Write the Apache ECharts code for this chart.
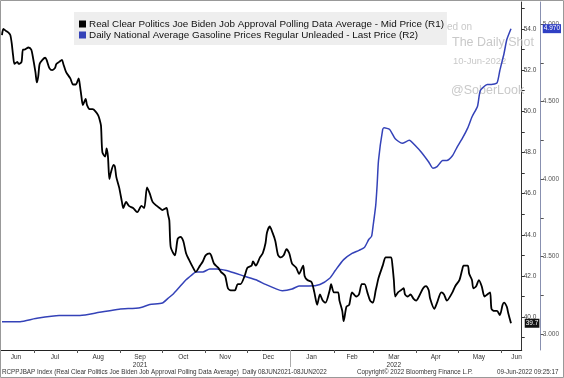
<!DOCTYPE html>
<html><head><meta charset="utf-8">
<script src="https://cdn.jsdelivr.net/npm/echarts@6/dist/echarts.min.js"></script>
<style>html,body{margin:0;padding:0;background:#fff}#c{width:564px;height:378px}</style>
</head><body><div id="c"></div>
<script>
// ---- data (days since 2021-06-08) ----
const bidenDays = [0,1,3,5,6,7,8,9,11,12,
14,15,16,19,21,22,24,25,26,27,
29,31,32,34,36,38,39,41,43,44,
46,49,51,53,55,56,57,58,60,61,
63,65,67,69,70,71,72,74,75,76,
77,78,80,81,82,84,86,87,89,91,
94,97,100,102,104,106,108,111,113,115,
118,119,120,121,124,126,128,130,132,134,
137,139,142,144,146,149,150,152,155,157,
160,162,164,167,169,171,174,176,179,180,
182,185,187,189,190,192,194,196,198,200,
202,204,206,208,211,213,216,217,219,222,
224,226,228,230,232,235,236,238,241,242,
244,245,247,249,251,254,256,258,260,262,
264,266,268,269,270,273,275,276,279,280,
281,282,284,286,288,289,291,293,295,297,
299,302,304,306,307,310,312,315,317,319,
323,325,328,330,331,334,335,337,338,340,
342,344,346,348,350,351,353,355,357,359,
360,362,363,365];
const bidenValues = [53.7,54.0,53.9,53.8,53.7,53.3,52.7,52.3,52.4,52.3,
52.4,53.0,53.0,53.1,53.0,52.7,51.9,51.4,51.7,52.3,
52.5,52.6,52.5,52.1,52.0,52.1,52.3,52.4,52.5,52.3,
51.9,51.6,51.3,51.3,51.6,51.2,50.7,50.3,50.6,50.3,
50.1,50.1,50.0,49.8,49.6,49.3,48.0,47.8,48.2,47.8,
46.7,47.0,47.4,47.3,46.8,46.3,45.6,45.3,45.6,45.4,
45.3,45.1,45.4,45.3,46.3,46.0,45.6,45.4,45.3,45.2,
45.3,45.0,44.7,43.4,43.0,43.8,43.9,43.7,43.1,42.8,
42.4,42.2,42.5,42.7,43.0,43.1,43.0,42.6,42.4,42.2,
42.0,41.4,41.3,41.3,41.6,41.6,42.0,42.4,42.5,42.7,
42.5,42.9,43.1,43.6,44.1,44.4,44.1,43.7,43.0,42.9,
43.0,43.3,43.1,42.6,42.4,42.1,42.5,42.0,41.8,41.7,
41.2,40.6,41.1,40.8,40.7,41.3,41.6,41.2,41.2,40.8,
40.3,39.8,40.5,40.6,41.2,41.0,41.1,41.6,41.6,41.2,
40.8,40.7,41.3,41.6,41.9,42.5,42.9,42.9,42.9,42.5,
41.8,41.0,41.2,41.3,41.4,41.1,41.0,41.1,40.9,40.8,
41.0,41.4,41.5,41.3,40.9,40.4,40.7,41.2,41.1,40.8,
41.2,41.5,41.8,42.3,42.5,42.5,42.1,41.8,41.4,41.5,
41.8,41.5,41.0,41.1,41.2,40.4,40.3,40.3,40.1,40.6,
40.7,40.5,40.2,39.7];
const gasDays = [0,13,24,41,56,70,84,99,106,115,
119,123,127,132,136,139,144,149,154,161,
168,175,182,189,197,201,208,213,220,228,
235,239,245,251,256,260,263,265,266,268,
269,270,273,274,278,282,287,292,297,301,
306,309,312,316,319,323,326,330,334,337,
341,343,348,351,355,357,360,362,365];
const gasValues = [3.08,3.08,3.10,3.12,3.12,3.14,3.16,3.17,3.19,3.20,
3.23,3.26,3.30,3.35,3.38,3.40,3.40,3.42,3.42,3.41,
3.39,3.37,3.35,3.32,3.29,3.28,3.29,3.31,3.31,3.32,
3.36,3.41,3.48,3.52,3.54,3.56,3.61,3.63,3.69,3.83,
3.96,4.12,4.32,4.33,4.32,4.26,4.23,4.25,4.21,4.17,
4.11,4.07,4.08,4.12,4.12,4.15,4.20,4.26,4.33,4.40,
4.47,4.57,4.61,4.61,4.62,4.70,4.81,4.90,4.97];
const lastBiden = 39.7;
const lastGas = 4.970;

const monthLabels = ['Jun','Jul','Aug','Sep\n2021','Oct','Nov','Dec','Jan','Feb','Mar\n2022','Apr','May','Jun'];
const monthLabelDates = [[2021,5,18],[2021,6,16],[2021,7,16],[2021,8,15],[2021,9,16],[2021,10,15],[2021,11,16],[2022,0,16],[2022,1,14],[2022,2,16],[2022,3,15],[2022,4,16],[2022,5,12]];
const monthStarts = [[2021,6,1],[2021,7,1],[2021,8,1],[2021,9,1],[2021,10,1],[2021,11,1],[2022,0,1],[2022,1,1],[2022,2,1],[2022,3,1],[2022,4,1],[2022,5,1]];
const yearStart = [2022,0,1];
const r1Labels = [40,42,44,46,48,50,52,54];
const r1Ticks = [39,40,41,42,43,44,45,46,47,48,49,50,51,52,53,54,55];
const r2Labels = [3.0,3.5,4.0,4.5,5.0];
const r2Ticks = [3.0,3.25,3.5,3.75,4.0,4.25,4.5,4.75,5.0];

const nameBiden = 'Real Clear Politics Joe Biden Job Approval Polling Data Average - Mid Price (R1)';
const nameGas = 'Daily National Average Gasoline Prices Regular Unleaded - Last Price (R2)';

// ---- build ----
const DAY = 86400000;
const t0 = Date.UTC(2021,5,8);
const toT = d => t0 + d*DAY;
const ymd = a => Date.UTC(a[0],a[1],a[2]);
const labelTimes = monthLabelDates.map(ymd);
const labelFor = v => { for (let i=0;i<labelTimes.length;i++) if (Math.abs(labelTimes[i]-v) < DAY/2) return monthLabels[i]; return ''; };
const xMin = toT(-0.7), xMax = toT(372.7);
const FONT = 'Liberation Sans';

const chart = echarts.init(document.getElementById('c'));
chart.setOption({
  animation:false,
  backgroundColor:'#fff',
  textStyle:{fontFamily:FONT},
  grid:{left:1,right:41,top:2,bottom:28},
  legend:{
    orient:'vertical', left:74, top:12, z:10,
    backgroundColor:'#eeeeee', padding:[7,3,5,5], itemGap:1,
    icon:'rect', itemWidth:7, itemHeight:7,
    textStyle:{fontSize:9.9, color:'#111', fontFamily:FONT, padding:[0,0,0,-2]},
    data:[nameBiden, nameGas], selectedMode:false
  },
  xAxis:[{
    type:'value', min:xMin, max:xMax, scale:true,
    axisLine:{lineStyle:{color:'#222',width:1}},
    axisTick:{show:true, customValues:monthStarts.map(ymd), length:3, lineStyle:{color:'#555'}},
    axisLabel:{customValues:labelTimes, formatter:v=>labelFor(v), fontSize:6.5, color:'#333', margin:3, lineHeight:8, fontFamily:FONT, hideOverlap:false},
    splitLine:{show:false}
  },{
    type:'value', min:xMin, max:xMax, scale:true, position:'bottom',
    axisLine:{show:false}, axisLabel:{show:false},
    axisTick:{show:true, customValues:[ymd(yearStart)], length:17, lineStyle:{color:'#aaa'}},
    splitLine:{show:false}
  }],
  yAxis:[{
    type:'value', position:'right', min:38.40, max:55.31,
    axisLine:{show:true, lineStyle:{color:'#333'}},
    axisTick:{show:true, customValues:r1Ticks, length:3, lineStyle:{color:'#333'}},
    axisLabel:{customValues:r1Labels, formatter:v=>v.toFixed(1), fontSize:6.5, color:'#444', margin:2, fontFamily:FONT},
    splitLine:{show:false}
  },{
    type:'value', position:'right', offset:19, min:2.897, max:5.142,
    axisLine:{show:true, lineStyle:{color:'#8890b0'}},
    axisTick:{show:true, customValues:r2Ticks, length:3, lineStyle:{color:'#555'}},
    axisLabel:{customValues:r2Labels, formatter:v=>v.toFixed(3), fontSize:6.5, color:'#555', margin:2, fontFamily:FONT},
    splitLine:{show:false}
  },{
    type:'value', position:'right', offset:0, min:38.40, max:55.31, z:6,
    axisLine:{show:false}, axisTick:{show:false}, splitLine:{show:false},
    axisLabel:{customValues:[lastBiden], formatter:v=>v.toFixed(1), fontSize:6.5, color:'#fff', backgroundColor:'#111', padding:[1,1,1,1], margin:3, fontFamily:FONT}
  },{
    type:'value', position:'right', offset:19, min:2.897, max:5.142, z:6,
    axisLine:{show:false}, axisTick:{show:false}, splitLine:{show:false},
    axisLabel:{customValues:[lastGas], formatter:v=>v.toFixed(3), fontSize:6.5, color:'#fff', backgroundColor:'#2f3fc4', padding:[1,1,1,1], margin:2, fontFamily:FONT}
  }],
  graphic:[
    {type:'text', z:3, left:427, top:22, style:{text:'Posted on', fontSize:10, fill:'#c9c9c9', fontFamily:FONT}},
    {type:'text', z:3, left:452, top:36, style:{text:'The Daily Shot', fontSize:12.5, fill:'#c9c9c9', fontFamily:FONT}},
    {type:'text', z:3, left:453, top:56, style:{text:'10-Jun-2022', fontSize:9.5, fill:'#c9c9c9', fontFamily:FONT}},
    {type:'text', z:3, left:451, top:84, style:{text:'@SoberLook', fontSize:12.5, fill:'#c9c9c9', fontFamily:FONT}},
    {type:'text', z:3, left:2, top:369, style:{text:'RCPPJBAP Index (Real Clear Politics Joe Biden Job Approval Polling Data Average)  Daily 08JUN2021-08JUN2022', fontSize:6.3, fill:'#333', fontFamily:FONT}},
    {type:'text', z:3, left:357, top:369, style:{text:'Copyright\u00a9 2022 Bloomberg Finance L.P.', fontSize:6.3, fill:'#333', fontFamily:FONT}},
    {type:'text', z:3, left:497, top:369, style:{text:'09-Jun-2022 09:25:17', fontSize:6.3, fill:'#333', fontFamily:FONT}},
    {type:'rect', z:20, shape:{x:0.5,y:0.5,width:563,height:377}, style:{fill:null, stroke:'#999', lineWidth:1}}
  ],
  series:[{
    name:nameBiden, type:'line', xAxisIndex:0, yAxisIndex:0, showSymbol:false, z:4, smooth:0.25,
    color:'#000', lineStyle:{color:'#000', width:1.8},
    data:bidenDays.map((d,i)=>[toT(d), bidenValues[i]])
  },{
    name:nameGas, type:'line', xAxisIndex:0, yAxisIndex:1, showSymbol:false, z:3, smooth:0.2,
    color:'#3442b8', lineStyle:{color:'#3442b8', width:1.5},
    data:gasDays.map((d,i)=>[toT(d), gasValues[i]])
  }]
});
</script></body></html>
